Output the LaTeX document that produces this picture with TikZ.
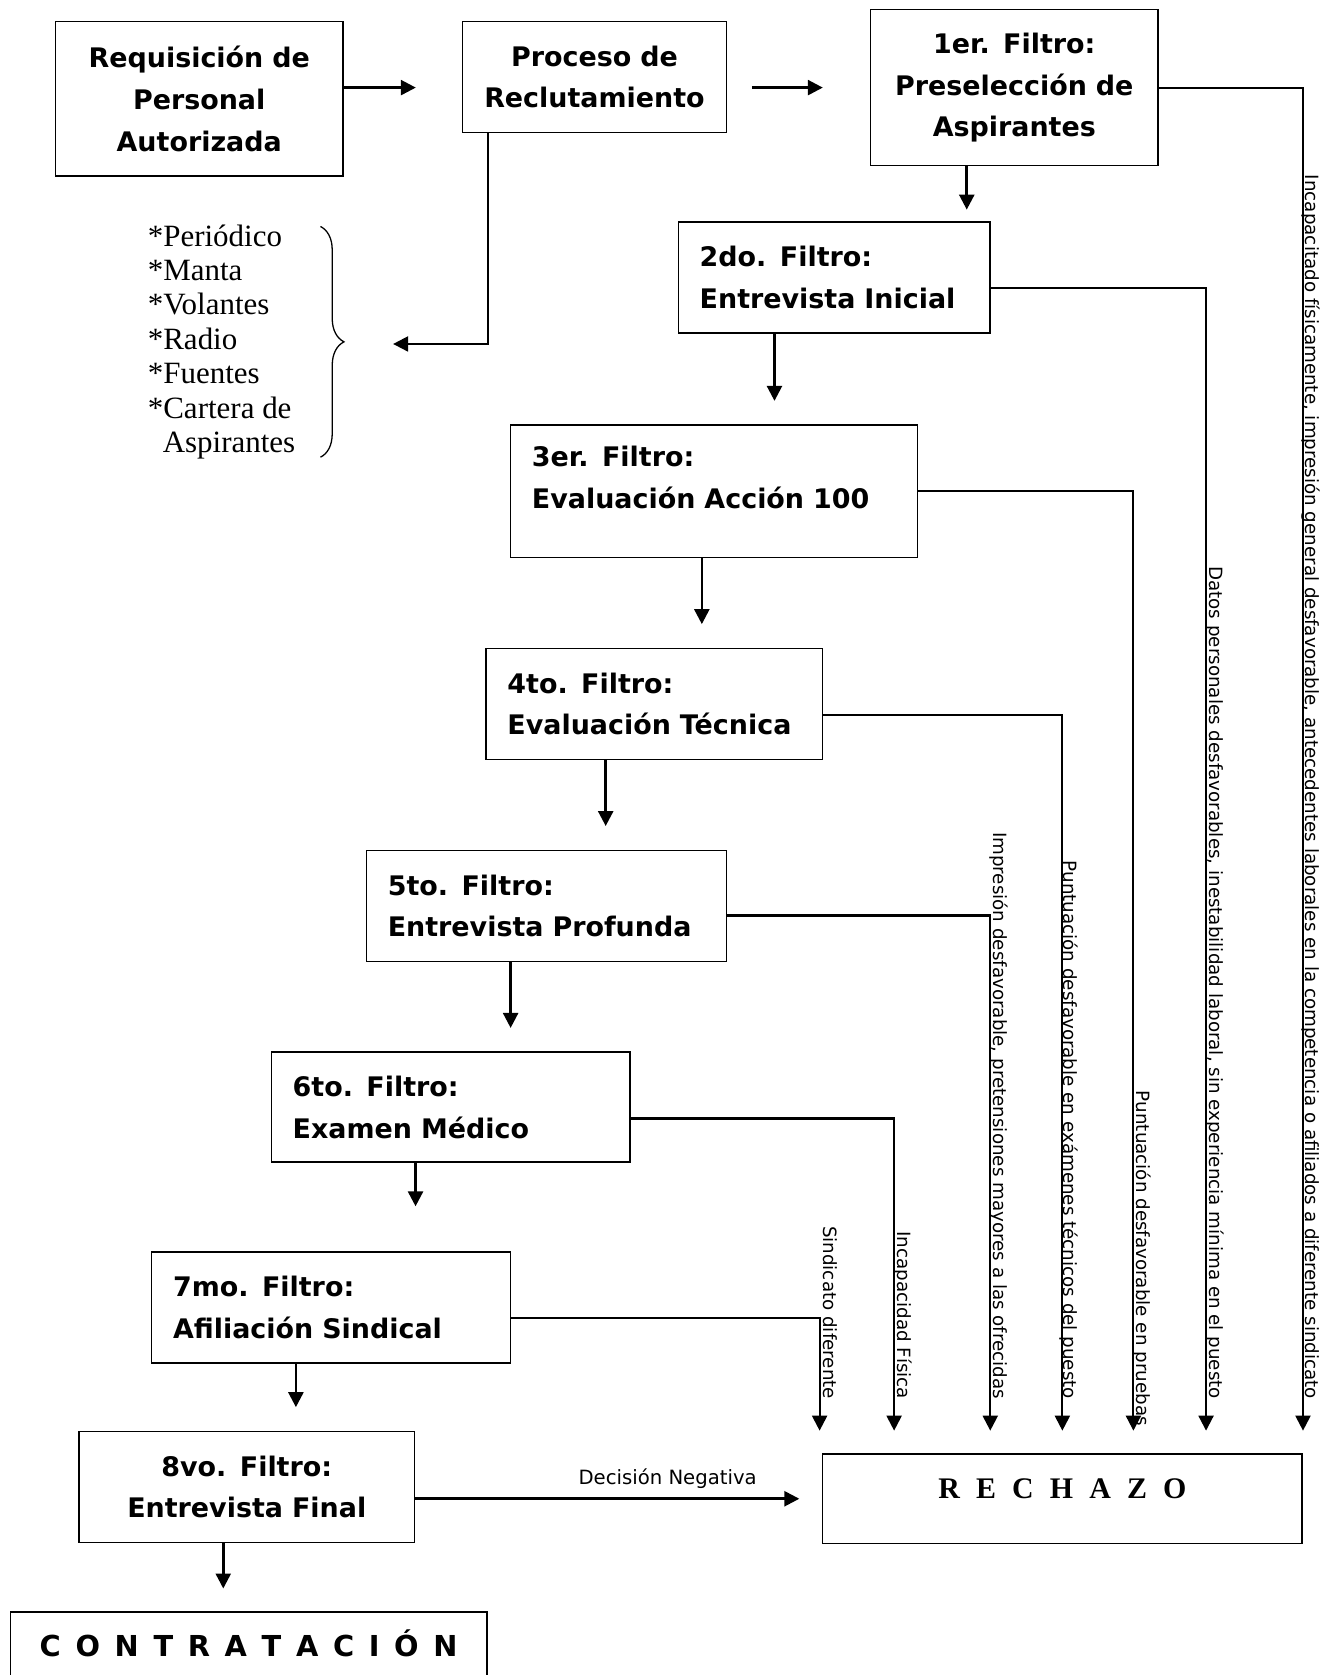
\documentclass[tikz,border=0pt]{standalone}
\usepackage{fontspec}
\setmainfont{DejaVu Sans}
\newfontfamily\listfont{Liberation Serif}
\usetikzlibrary{arrows.meta,decorations.pathreplacing}

\begin{document}
\begin{tikzpicture}[x=0.5pt, y=-0.5pt,
    box/.style={draw, line width=0.75pt, inner xsep=10pt, inner ysep=0pt,
      font=\fontsize{12.6}{19.5}\selectfont\bfseries},
    flow/.style={line width=1.2pt, -{Triangle[width=7pt,length=7pt]}},
    reject/.style={line width=1pt, -{Triangle[width=7pt,length=7pt]}, shorten >=10.5pt},
    reason/.style={rotate=-90, anchor=base east, inner sep=0pt, font=\fontsize{8.55}{10}\selectfont}]

    % Fix the frame
    \useasboundingbox (0,0) rectangle (1242,1568);

    % Draw the boxes of the process
    \node[box, align=center, text width=114.5pt, minimum height=72.5pt] (R) at (186.5,92.5) {Requisición de\\Personal\\Autorizada};
    \node[box, align=center, text width=103.5pt, minimum height=52pt] (P) at (556.5,72) {Proceso de\\Reclutamiento};
    \node[box, align=center, text width=114.5pt, minimum height=73pt] (F1) at (949.5,82) {1er. Filtro:\\Preselección de\\Aspirantes};
    \node[box, align=left, text width=126pt, minimum height=52pt] (F2) at (781,260) {2do. Filtro:\\Entrevista Inicial};
    \node[box, align=left, text width=170.5pt, minimum height=62pt] (F3) at (668.5,460) {3er. Filtro:\\Evaluación Acción 100\\[-6.5pt]\mbox{}};
    \node[box, align=left, text width=137.5pt, minimum height=52pt] (F4) at (612.5,659) {4to. Filtro:\\Evaluación Técnica};
    \node[box, align=left, text width=148.5pt, minimum height=52pt] (F5) at (511.5,848) {5to. Filtro:\\Entrevista Profunda};
    \node[box, align=left, text width=148pt, minimum height=51.5pt] (F6) at (422,1036.5) {6to. Filtro:\\Examen Médico};
    \node[box, align=left, text width=148pt, minimum height=52pt] (F7) at (310,1224) {7mo. Filtro:\\Afiliación Sindical};
    \node[box, align=center, text width=137pt, minimum height=52pt] (F8) at (231,1392) {8vo. Filtro:\\Entrevista Final};

    % Rejection and hiring
    \node[draw, line width=0.75pt, minimum width=224.5pt, minimum height=42pt,
      font=\fontsize{14}{16}\selectfont\listfont\bfseries\addfontfeatures{LetterSpace=29}] (X) at (994.5,1403) {\raisebox{9.5pt}{R E C H A Z O}};
    \node[box, anchor=north west, minimum width=223pt, minimum height=36pt,
      font=\fontsize{13.5}{15}\selectfont\bfseries\addfontfeatures{LetterSpace=16}] (C) at (9,1508) {\raisebox{6.5pt}{C O N T R A T A C I Ó N}};

    % Media of the recruiting
    \node[font=\fontsize{14.5}{16.1}\selectfont\listfont, align=left, anchor=west, inner sep=0pt] (M) at (138,320)
      {*Periódico\\*Manta\\*Volantes\\*Radio\\*Fuentes\\*Cartera de\\\hspace*{7pt}Aspirantes};
    \draw[line width=0.6pt, decorate, decoration={brace, amplitude=11pt}] (300,212) -- (300,428);
    \coordinate (L) at (368,322);
    \draw[flow, line width=1pt] ([xshift=-49.75pt]P.south) |- (L);

    % Draw the arrows of the filters
    \draw[flow, shorten >=21.5pt] (R.east |- F1) -- (P.west |- F1);
    \draw[flow, shorten <=11.5pt, shorten >=22pt] (P.east |- F1) -- (F1.west);
    \draw[flow, shorten >=5.5pt] ([xshift=-22.25pt]F1.south) -- ([xshift=-22.25pt]F1.south |- F2.north);
    \draw[flow, shorten >=11pt] ([xshift=-28pt]F2.south) -- ([xshift=-28pt]F2.south |- F3.north);
    \draw[flow, shorten >=11pt] ([xshift=-5.75pt]F3.south) -- ([xshift=-5.75pt]F3.south |- F4.north);
    \draw[flow, shorten >=11pt] ([xshift=-22.75pt]F4.south) -- ([xshift=-22.75pt]F4.south |- F5.north);
    \draw[flow, shorten >=11pt] ([xshift=-16.75pt]F5.south) -- ([xshift=-16.75pt]F5.south |- F6.north);
    \draw[flow, shorten >=21pt] ([xshift=-16.5pt]F6.south) -- ([xshift=-16.5pt]F6.south |- F7.north);
    \draw[flow, shorten >=11pt] ([xshift=-16.5pt]F7.south) -- ([xshift=-16.5pt]F7.south |- F8.north);
    \draw[flow, shorten >=10.5pt] ([xshift=-11pt]F8.south) -- ([xshift=-11pt]F8.south |- C.north);

    % Draw the arrows to the rejection
    \draw[reject] (F1.east) -| (X.north east);
    \draw[reject] ([yshift=-5pt]F2.east) -| ([xshift=67.25pt]X.north);
    \draw[reject] (F3.east) -| ([xshift=33.25pt]X.north);
    \draw[reject] ([yshift=-5pt]F4.east) -| (X.north);
    \draw[reject] ([yshift=-4.5pt]F5.east) -| ([xshift=-33.75pt]X.north);
    \draw[reject] ([yshift=-5.25pt]F6.east) -| ([xshift=-78.75pt]X.north);
    \draw[reject] ([yshift=-5pt]F7.east) -| ([xshift=-1pt]X.north west);
    \draw[reject, line width=1.2pt] (F8.east |- X.west) -- (X.west);

    % Add the reasons
    \node[reason] (T1) at (1222,1310) {Incapacitado físicamente, impresión general desfavorable, antecedentes laborales en la competencia o afiliados a diferente sindicato};
    \node[reason] (T2) at (1132,1310) {Datos personales desfavorables, inestabilidad laboral, sin experiencia mínima en el puesto};
    \node[reason] (T3) at (1064,1335) {Puntuación desfavorable en pruebas};
    \node[reason] (T4) at (996,1310) {Puntuación desfavorable en exámenes técnicos del puesto};
    \node[reason] (T5) at (930,1310) {Impresión desfavorable, pretensiones mayores a las ofrecidas};
    \node[reason] (T6) at (840,1310) {Incapacidad Física};
    \node[reason] (T7) at (771,1310) {Sindicato diferente};
    \node[font=\fontsize{9.2}{11}\selectfont] (D) at (625,1384) {Decisión Negativa};

\end{tikzpicture}
\end{document}
